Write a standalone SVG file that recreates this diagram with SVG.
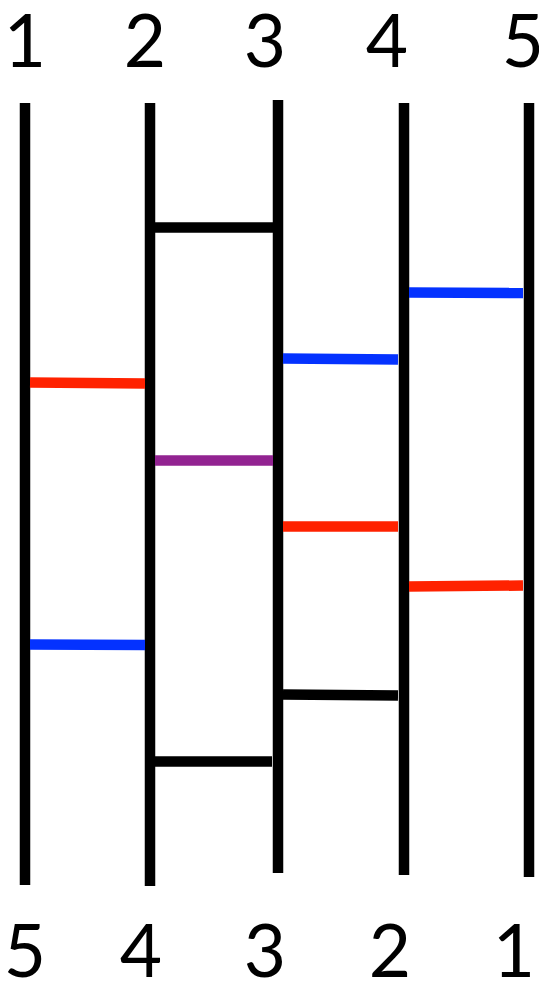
<svg xmlns="http://www.w3.org/2000/svg" width="539" height="981" viewBox="0 0 539 981">
<style>
.lbl{font-family:"Lato","Liberation Sans",sans-serif;font-size:73px;fill:#000;text-anchor:middle}
.post{stroke:#000;stroke-width:10.5;fill:none}
.rung{stroke-width:10.5;fill:none}
.k{stroke:#000}.r{stroke:#FF2200}.b{stroke:#0432FF}.p{stroke:#922391}
</style>
<rect width="539" height="981" fill="#fff"/>
<g id="labels-top">
<text class="lbl" x="25" y="67">1</text>
<text class="lbl" x="145" y="67">2</text>
<text class="lbl" x="265" y="67">3</text>
<text class="lbl" x="387" y="67">4</text>
<text class="lbl" x="523" y="67">5</text>
</g>
<g id="labels-bottom">
<text class="lbl" x="25" y="977">5</text>
<text class="lbl" x="141" y="977">4</text>
<text class="lbl" x="265" y="977">3</text>
<text class="lbl" x="390" y="977">2</text>
<text class="lbl" x="514" y="977">1</text>
</g>
<g id="posts">
<line id="post1" class="post" x1="25" y1="103" x2="25" y2="885"/>
<line id="post2" class="post" x1="150" y1="103" x2="150" y2="886"/>
<line id="post3" class="post" x1="278" y1="100" x2="278" y2="873"/>
<line id="post4" class="post" x1="404" y1="103" x2="404" y2="875"/>
<line id="post5" class="post" x1="529" y1="103" x2="529" y2="877"/>
</g>
<g id="rungs">
<line class="rung k" x1="155" y1="227.5" x2="273" y2="227.5"/>
<line class="rung b" x1="409" y1="292.5" x2="523" y2="293"/>
<line class="rung b" x1="283" y1="358.5" x2="398" y2="359.5"/>
<line class="rung r" x1="30" y1="382.5" x2="145" y2="383.5"/>
<line class="rung p" x1="155" y1="460.5" x2="273" y2="460.5"/>
<line class="rung r" x1="283" y1="526.5" x2="398" y2="526.5"/>
<line class="rung r" x1="409" y1="586.5" x2="523" y2="585.5"/>
<line class="rung b" x1="30" y1="644.5" x2="145" y2="645"/>
<line class="rung k" x1="283" y1="694.5" x2="398" y2="695.5"/>
<line class="rung k" x1="155" y1="761.5" x2="272" y2="761.5"/>
</g>
</svg>
